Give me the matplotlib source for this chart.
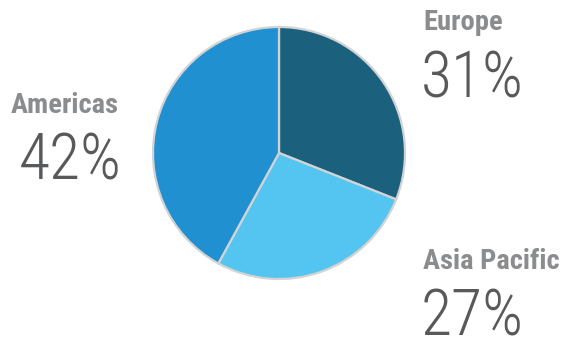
import matplotlib.pyplot as plt

# 地区占比数据
regions = ['Europe', 'Asia Pacific', 'Americas']
shares = [31, 27, 42]
colors = ['#1b617d', '#53c5f0', '#2190d1']

# 标签位置 (像素: 名称左边, 名称基线, 百分比左边, 百分比基线)
label_pos = {
    'Europe': (423, 30, 421, 98),
    'Asia Pacific': (423, 269, 421, 336),
    'Americas': (11, 113, 19, 180),
}

W, H = 568, 343
fig = plt.figure(figsize=(W / 100, H / 100), dpi=100)
ax = fig.add_axes([0, 0, 1, 1])

# 饼图，从正上方顺时针
ax.pie(shares, colors=colors, startangle=90, counterclock=False,
       center=(279, H - 153), radius=126, frame=True,
       wedgeprops=dict(edgecolor='#d2d3d4', linewidth=1.6))
ax.set_xlim(0, W)
ax.set_ylim(0, H)
ax.axis('off')

for name, val in zip(regions, shares):
    x_lab, y_lab, x_val, y_val = label_pos[name]
    ax.text(x_lab, H - y_lab, name, fontsize=20.5, fontweight='bold',
            family=['Roboto Condensed', 'DejaVu Sans'], color='#8b8c8e',
            ha='left', va='baseline')
    ax.text(x_val, H - y_val, f'{val}%', fontsize=46, fontweight='light',
            family=['Roboto Condensed', 'DejaVu Sans'], color='#58595b',
            ha='left', va='baseline')

fig.savefig('out.png', dpi=100)
